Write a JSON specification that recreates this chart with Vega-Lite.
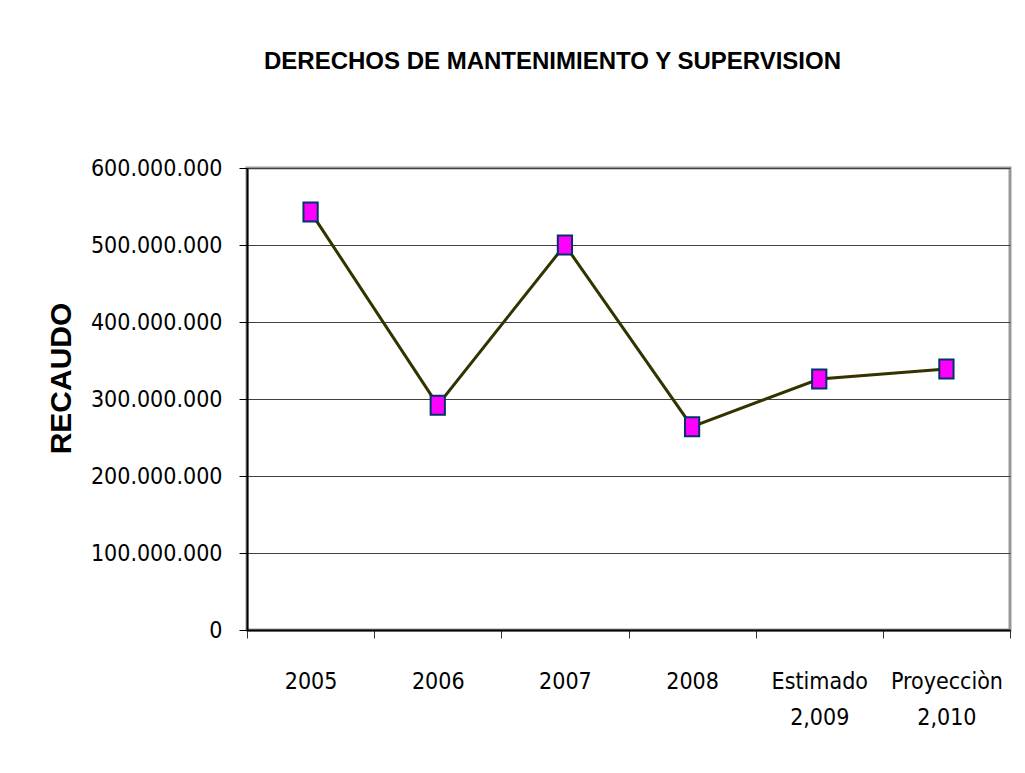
{
  "$schema": "https://vega.github.io/schema/vega-lite/v6.json",
  "width": 763,
  "height": 462,
  "autosize": {"type": "none"},
  "padding": {"left": 247, "top": 168, "right": 15, "bottom": 143},
  "background": "white",
  "title": {
    "text": "DERECHOS DE MANTENIMIENTO Y SUPERVISION",
    "font": "Liberation Sans",
    "fontSize": 24,
    "fontWeight": "bold",
    "color": "black",
    "anchor": "middle",
    "frame": "group",
    "dx": -76,
    "dy": 37,
    "offset": 101,
    "baseline": "alphabetic"
  },
  "data": {
    "values": [
      {"periodo": "2005", "recaudo": 543000000},
      {"periodo": "2006", "recaudo": 292000000},
      {"periodo": "2007", "recaudo": 500000000},
      {"periodo": "2008", "recaudo": 264000000},
      {"periodo": "Estimado 2,009", "recaudo": 326000000},
      {"periodo": "Proyecciòn 2,010", "recaudo": 339000000}
    ]
  },
  "encoding": {
    "x": {
      "field": "periodo",
      "type": "nominal",
      "sort": null,
      "scale": {"paddingInner": 0, "paddingOuter": 0},
      "axis": {
        "title": null,
        "labelAngle": 0,
        "labelExpr": "split(datum.label, ' ')",
        "labelFont": "DejaVu Sans Condensed, Liberation Sans",
        "labelFontSize": 23,
        "labelColor": "black",
        "labelBaseline": "top",
        "labelPadding": 32,
        "labelLineHeight": 36,
        "tickSize": 8,
        "tickColor": "#333333",
        "tickBand": "extent",
        "domainColor": "black",
        "domainWidth": 2,
        "grid": false
      }
    },
    "y": {
      "field": "recaudo",
      "type": "quantitative",
      "scale": {"domain": [0, 600000000]},
      "axis": {
        "title": "RECAUDO",
        "titleFont": "Liberation Sans",
        "titleFontSize": 30,
        "titleFontWeight": "bold",
        "titleColor": "black",
        "titleX": -186,
        "titleY": 210,
        "titleAlign": "center",
        "titleBaseline": "middle",
        "values": [0, 100000000, 200000000, 300000000, 400000000, 500000000, 600000000],
        "labelExpr": "replace(format(datum.value, ','), regexp(',', 'g'), '.')",
        "labelFont": "DejaVu Sans Condensed, Liberation Sans",
        "labelFontSize": 23,
        "labelColor": "black",
        "labelPadding": 17,
        "labelFlush": false,
        "labelOverlap": false,
        "tickSize": 8,
        "tickColor": "black",
        "domainColor": "black",
        "domainWidth": 2,
        "grid": true,
        "gridColor": "#404040",
        "gridWidth": 1
      }
    }
  },
  "layer": [
    {"mark": {"type": "line", "color": "#333300", "strokeWidth": 3}},
    {
      "mark": {
        "type": "point",
        "shape": "M-0.75,-1L0.75,-1L0.75,1L-0.75,1Z",
        "filled": true,
        "fill": "#FF00FF",
        "stroke": "#003366",
        "strokeWidth": 2,
        "size": 361,
        "opacity": 1
      }
    }
  ],
  "config": {"view": {"stroke": "#999999", "strokeWidth": 3}}
}
